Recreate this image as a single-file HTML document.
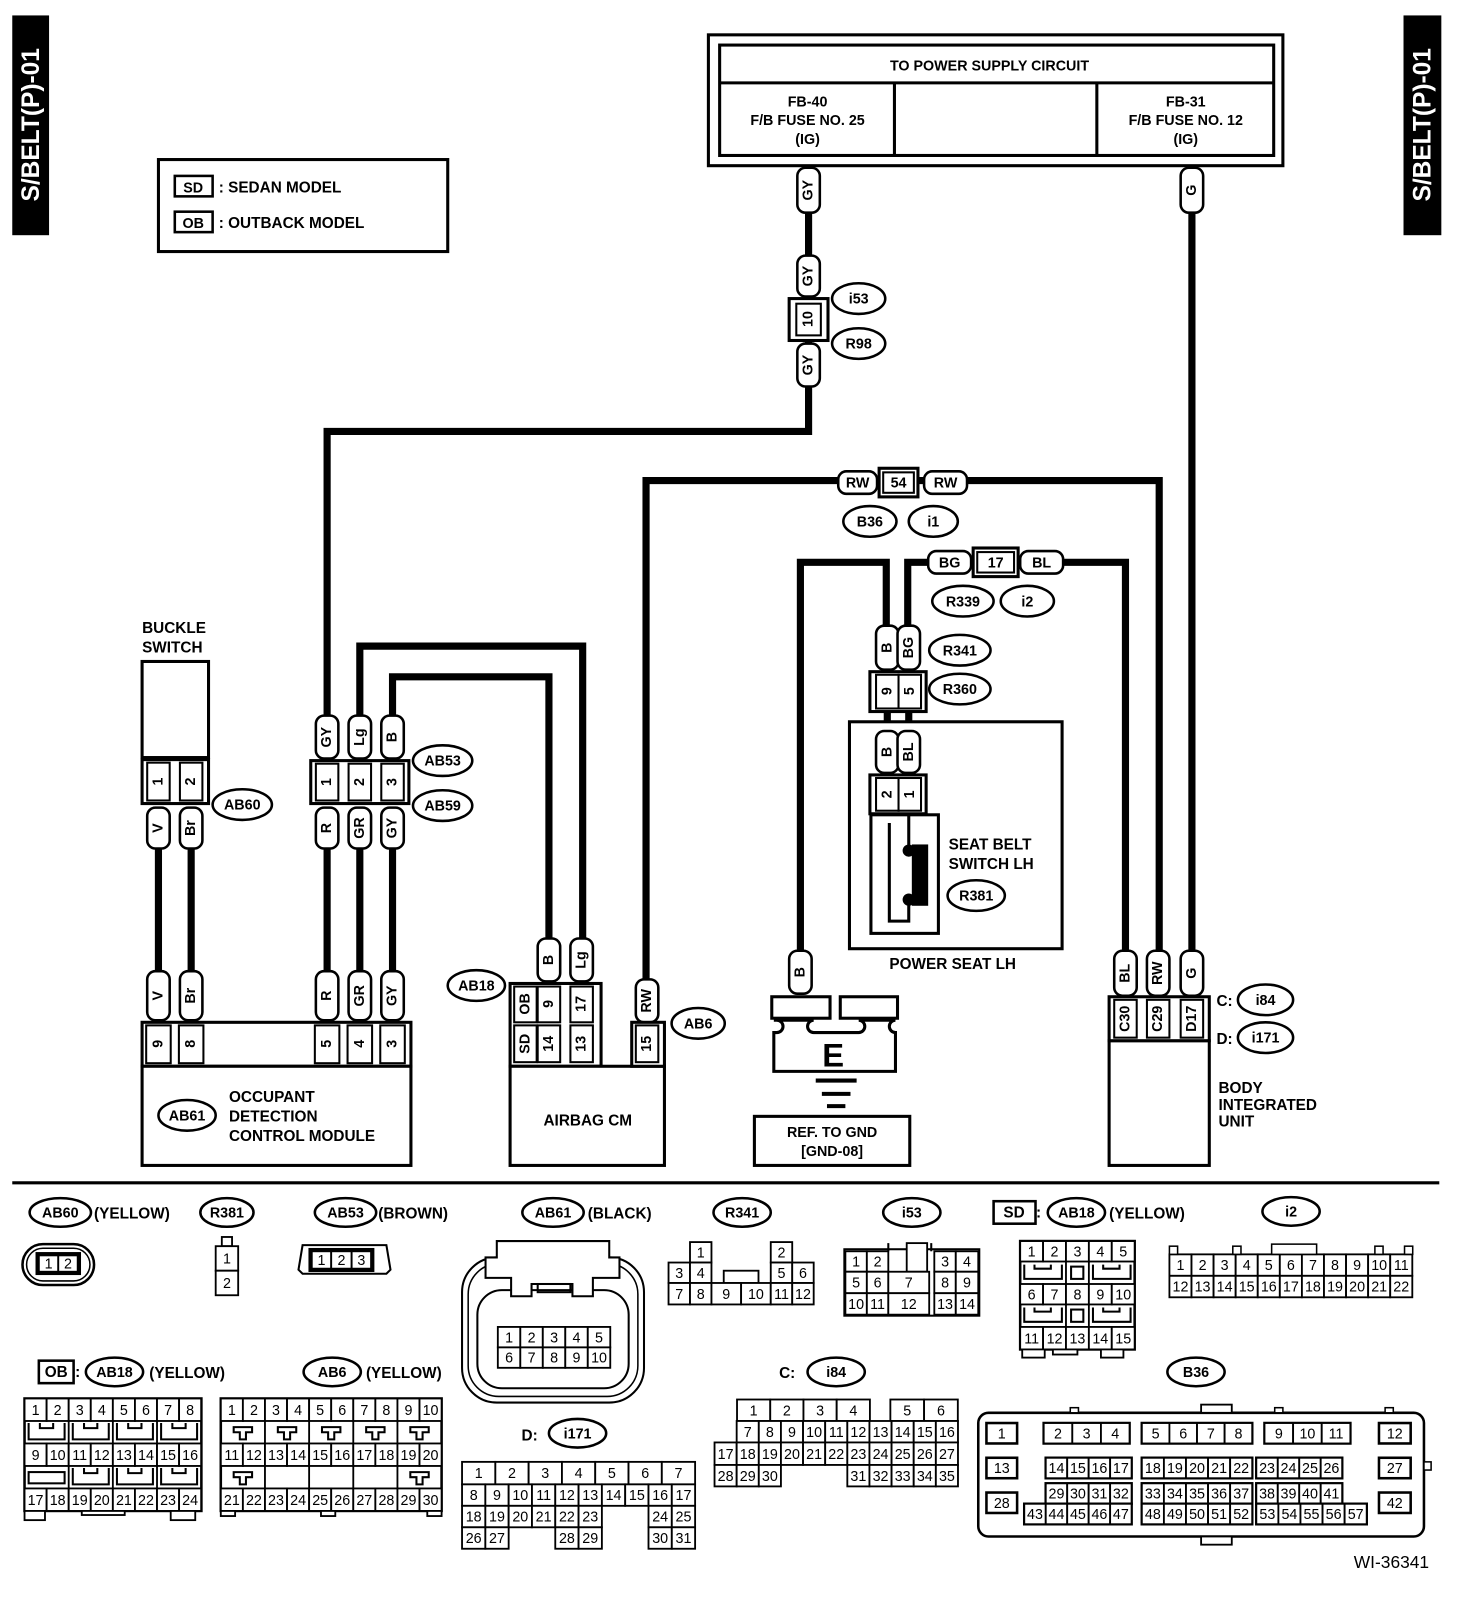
<!DOCTYPE html>
<html><head><meta charset="utf-8">
<style>
html,body{margin:0;padding:0;background:#fff;}
svg{display:block;}
text{font-family:"Liberation Sans",Arial,sans-serif;}
</style></head>
<body>
<svg id="s" xmlns="http://www.w3.org/2000/svg" width="1472" height="1602" viewBox="0 0 1440 1567"></svg>
<script>
let s='';
function L(x1,y1,x2,y2,w){s+=`<line x1="${x1}" y1="${y1}" x2="${x2}" y2="${y2}" stroke="#000" stroke-width="${w||7}"/>`;}
function P(pts,w){s+=`<polyline points="${pts}" fill="none" stroke="#000" stroke-width="${w||7}" stroke-linejoin="miter"/>`;}
function R(x,y,w,h,sw,fill){s+=`<rect x="${x}" y="${y}" width="${w}" height="${h}" fill="${fill||'#fff'}" stroke="#000" stroke-width="${sw==null?2:sw}"/>`;}
function T(x,y,t,sz,anc,wt){s+=`<text x="${x}" y="${y}" font-size="${sz||14}" text-anchor="${anc||'middle'}" font-weight="${wt||'bold'}">${t}</text>`;}
function TV(cx,cy,t,sz,fill){s+=`<text transform="translate(${cx},${cy}) rotate(-90)" font-size="${sz||14}" text-anchor="middle" dominant-baseline="central" font-weight="bold" fill="${fill||'#000'}">${t}</text>`;}
function pill(cx,y1,y2,t){s+=`<rect x="${cx-11}" y="${y1}" width="22" height="${y2-y1}" rx="8" fill="#fff" stroke="#000" stroke-width="2.5"/>`;TV(cx,(y1+y2)/2,t,14);}
function hpill(x1,x2,cy,t){s+=`<rect x="${x1}" y="${cy-11}" width="${x2-x1}" height="22" rx="8" fill="#fff" stroke="#000" stroke-width="2.5"/>`;T((x1+x2)/2,cy+5,t,14);}
function ell(cx,cy,t,rx,ry){s+=`<ellipse cx="${cx}" cy="${cy}" rx="${rx||27}" ry="${ry||14}" fill="#fff" stroke="#000" stroke-width="2.5"/>`;T(cx,cy+5,t,14);}
function pinbox(x1,y1,x2,y2,cells){R(x1,y1,x2-x1,y2-y1,3);cells.forEach(c=>{R(c[0]-11,y1+3,22,y2-y1-6,2);TV(c[0],(y1+y2)/2,c[1],14);});}
function C(x,y,w,h,t){R(x,y,w,h,1.8);if(t!==''&&t!=null)s+=`<text x="${x+w/2}" y="${y+h/2+5}" font-size="14" text-anchor="middle">${t}</text>`;}

// side tabs
R(12,15,36,215,0,'#000');TV(31,122,'S/BELT(P)-01',24,'#fff');
R(1373,15,37,215,0,'#000');TV(1392,122,'S/BELT(P)-01',24,'#fff');
// legend
R(155,156,283,90,3);
R(171,172,37,20,2.5);T(189,188,'SD',14);T(214,188,': SEDAN MODEL',15,'start');
R(171,207,37,20,2.5);T(189,223,'OB',14);T(214,223,': OUTBACK MODEL',15,'start');
// power box
R(693,34,562,128,3);R(704,44,542,108,3);L(704,81,1246,81,3);L(875,81,875,152,3);L(1073,81,1073,152,3);
T(968,69,'TO POWER SUPPLY CIRCUIT',14);
T(790,104,'FB-40',14);T(790,122,'F/B FUSE NO. 25',14);T(790,141,'(IG)',14);
T(1160,104,'FB-31',14);T(1160,122,'F/B FUSE NO. 12',14);T(1160,141,'(IG)',14);
// wires
P('791,162 791,422 320,422 320,700');
L(1166,162,1166,930);
P('632,960 632,470 1134,470 1134,930');
P('783,930 783,550 867,550 867,612');
P('888,612 888,550 910,550');
P('1038,550 1101,550 1101,930');
P('352,700 352,632 570,632 570,918');
P('384,700 384,662 537,662 537,918');
L(155,830,155,950);L(187,830,187,950);L(320,830,320,950);L(352,830,352,950);L(384,830,384,950);
L(868,695,868,715);L(889,695,889,715);
// top connectors
pill(791,164,208,'GY');pill(1166,164,208,'G');
pill(791,250,290,'GY');R(772,292,38,41,3);R(779,297,24,31,2);TV(791,312,'10',14);pill(791,336,378,'GY');
ell(840,292,'i53',26,15);ell(840,336,'R98',26,15);
hpill(820,858,472,'RW');R(860,458,38,28,3);R(864,462,30,20,2);T(879,477,'54',14);hpill(904,946,472,'RW');
ell(851,510,'B36',26,15);ell(913,510,'i1',24,15);
hpill(908,950,550,'BG');R(952,536,44,28,3);R(956,540,36,20,2);T(974,555,'17',14);hpill(998,1040,550,'BL');
ell(942,588,'R339',30,15);ell(1005,588,'i2',26,15);
pill(868,612,655,'B');pill(889,612,655,'BG');
R(851,657,55,39,3);R(857,660,22,33,2);TV(868,676,'9');R(879,660,22,33,2);TV(890,676,'5');
ell(939,636,'R341',30,15);ell(939,674,'R360',30,15);
// power seat
R(831,706,208,222,3);
pill(868,715,756,'B');pill(889,715,756,'BL');
R(851,758,55,38,3);R(857,761,22,32,2);TV(868,777,'2');R(879,761,22,32,2);TV(890,777,'1');
R(852,797,66,116,3);P('889,797 889,829',3);P('870,805 870,901 889,901 889,882',3);
R(892,826,16,60,0,'#000');s+=`<circle cx="889" cy="832" r="6"/><circle cx="889" cy="880" r="6"/>`;
T(928,831,'SEAT BELT',15,'start');T(928,850,'SWITCH LH',15,'start');ell(955,876,'R381',28,15);
T(932,948,'POWER SEAT LH',15);
// ground
pill(783,930,972,'B');
R(755,975,57,21,3);R(822,975,56,21,3);
s+=`<path d="M757,998 H760 A6,6 0 0 1 760,1010 H757 V1048 H876 V1010 A6,6 0 0 1 876,998 H840 A6,6 0 0 1 840,1010 H796 A6,6 0 0 1 796,998 Z" fill="#fff" stroke="#000" stroke-width="3"/>`;
T(815,1043,'E',32);
L(798,1057,838,1057,4);L(804,1070,832,1070,4);L(809,1082,827,1082,4);
R(738,1092,152,48,3);T(814,1112,'REF. TO GND',14);T(814,1131,'[GND-08]',14);
// body integrated unit
pill(1101,930,974,'BL');pill(1133,930,974,'RW');pill(1166,930,974,'G');
R(1085,1018,98,122,3);
pinbox(1085,975,1183,1018,[[1101,'C30'],[1133,'C29'],[1166,'D17']]);
T(1190,984,'C:',15,'start');ell(1238,978,'i84',27,15);
T(1190,1021,'D:',15,'start');ell(1238,1015,'i171',27,15);
T(1192,1069,'BODY',15,'start');T(1192,1086,'INTEGRATED',15,'start');T(1192,1102,'UNIT',15,'start');
// buckle switch
T(139,619,'BUCKLE',15,'start');T(139,638,'SWITCH',15,'start');
R(139,647,65,94,3);
pinbox(139,743,204,786,[[155,'1'],[187,'2']]);
ell(237,787,'AB60',29,15);
pill(155,790,830,'V');pill(187,790,830,'Br');
pill(155,950,998,'V');pill(187,950,998,'Br');
// AB53
pill(320,700,742,'GY');pill(352,700,742,'Lg');pill(384,700,742,'B');
pinbox(304,744,400,786,[[320,'1'],[352,'2'],[384,'3']]);
ell(433,744,'AB53',29,15);ell(433,788,'AB59',29,15);
pill(320,790,830,'R');pill(352,790,830,'GR');pill(384,790,830,'GY');
pill(320,950,998,'R');pill(352,950,998,'GR');pill(384,950,998,'GY');
// ODCM
R(139,1000,263,43,3);R(139,1043,263,97,3);
[[155,'9'],[187,'8'],[320,'5'],[352,'4'],[384,'3']].forEach(c=>{R(c[0]-12,1003,24,37,2);TV(c[0],1021,c[1]);});
ell(183,1091,'AB61',28,15);
T(224,1078,'OCCUPANT',15,'start');T(224,1097,'DETECTION',15,'start');T(224,1116,'CONTROL MODULE',15,'start');
// airbag
pill(537,918,960,'B');pill(569,918,960,'Lg');pill(633,958,1000,'RW');
R(499,962,89,81,3);R(499,1043,151,97,3);R(618,1000,32,43,3);
[[514,'OB','SD'],[537,'9','14'],[569,'17','13']].forEach(c=>{R(c[0]-11,965,22,35,2);TV(c[0],982,c[1]);R(c[0]-11,1003,22,36,2);TV(c[0],1021,c[2]);});
R(622,1003,22,36,2);TV(633,1021,'15');
ell(466,964,'AB18',28,15);ell(683,1001,'AB6',26,15);
T(575,1101,'AIRBAG CM',15);
// separator
L(12,1157,1408,1157,3);

// ===== bottom connectors =====
ell(59,1186,'AB60',30,14);T(92,1192,'(YELLOW)',15,'start');
s+=`<rect x="22" y="1217" width="70" height="40" rx="20" fill="#fff" stroke="#000" stroke-width="2.5"/><rect x="26" y="1221" width="62" height="32" rx="16" fill="none" stroke="#000" stroke-width="1.5"/>`;
R(36,1226,42,20,2.5);C(38,1228,19,16,'1');C(57,1228,19,16,'2');
ell(222,1186,'R381',26,14);R(217,1210,10,9,1.8);C(211,1219,22,24,'1');C(211,1243,22,24,'2');
ell(338,1186,'AB53',30,14);T(370,1192,'(BROWN)',15,'start');
s+=`<path d="M296,1218 H378 L382,1242 L378,1246 H296 L292,1242 Z" fill="#fff" stroke="#000" stroke-width="2"/>`;
R(303,1222,62,21,2.5);C(305,1224,19,17,'1');C(324,1224,20,17,'2');C(344,1224,19,17,'3');
// AB61
ell(541,1186,'AB61',30,14);T(575,1192,'(BLACK)',15,'start');
s+=`<rect x="452" y="1230" width="178" height="142" rx="34" fill="#fff" stroke="#000" stroke-width="2"/><rect x="458" y="1236" width="166" height="130" rx="30" fill="none" stroke="#000" stroke-width="1.5"/>`;
s+=`<rect x="467" y="1262" width="148" height="96" rx="24" fill="#fff" stroke="#000" stroke-width="2"/>`;
s+=`<path d="M486,1214 H596 V1230 H606 V1250 H580 V1268 H560 V1256 H520 V1268 H500 V1250 H475 V1230 H486 Z" fill="#fff" stroke="#000" stroke-width="2"/>`;
s+=`<rect x="526" y="1256" width="32" height="8" fill="none" stroke="#000" stroke-width="2"/>`;
for(let i=0;i<5;i++){C(487+i*22,1298,22,20,String(i+1));C(487+i*22,1318,22,20,String(i+6));}
// R341
ell(726,1186,'R341',28,14);
{const xs=[654,675,696,725,754,775,796];
C(675,1215,21,20,'1');C(754,1215,21,20,'2');
C(654,1235,21,20,'3');C(675,1235,21,20,'4');C(754,1235,21,20,'5');C(775,1235,21,20,'6');
R(708,1243,34,12,1.8);
const l3=['7','8','9','10','11','12'];for(let i=0;i<6;i++)C(xs[i],1255,xs[i+1]-xs[i],21,l3[i]);}
// i53
ell(892,1186,'i53',28,14);
R(826,1222,132,65,2);
C(827,1224,21,20,'1');C(848,1224,21,20,'2');C(914,1224,21,20,'3');C(935,1224,22,20,'4');R(887,1216,20,28,1.8);
L(869,1216,869,1224,2);L(911,1216,911,1224,2);
C(827,1244,21,21,'5');C(848,1244,21,21,'6');C(869,1244,40,21,'7');C(914,1244,21,21,'8');C(935,1244,22,21,'9');
C(827,1265,21,21,'10');C(848,1265,21,21,'11');C(869,1265,40,21,'12');C(914,1265,21,21,'13');C(935,1265,22,21,'14');
// SD AB18
R(972,1175,41,22,2.5);T(992,1191,'SD',15);T(1016,1191,':',15);ell(1053,1186,'AB18',28,14);T(1085,1192,'(YELLOW)',15,'start');
{const x0=998,cw=22.4;R(x0,1214,112,106,2.5);
for(let i=0;i<5;i++){C(x0+i*cw,1214,cw,20,String(i+1));C(x0+i*cw,1256,cw,20,String(i+6));C(x0+i*cw,1298,cw,22,String(i+11));}
[1234,1276].forEach(y=>{s+=`<path d="M${x0+4},${y+3} V${y+17} H${x0+2*cw-4} V${y+3} M${x0+14},${y+3} V${y+7} H${x0+30} V${y+3}" fill="none" stroke="#000" stroke-width="2"/>`;
s+=`<path d="M${x0+3*cw+4},${y+3} V${y+17} H${x0+5*cw-4} V${y+3} M${x0+3*cw+14},${y+3} V${y+7} H${x0+3*cw+30} V${y+3}" fill="none" stroke="#000" stroke-width="2"/>`;
R(x0+2*cw+5,y+5,12,12,2);L(x0+2*cw,y,x0+2*cw,y+22,1.8);L(x0+3*cw,y,x0+3*cw,y+22,1.8);});
R(1000,1320,22,8,1.8);R(1030,1320,24,5,1.8);R(1077,1320,22,8,1.8);}
// i2
ell(1263,1185,'i2',28,14);
{const x0=1144,cw=21.6;for(let i=0;i<11;i++){C(x0+i*cw,1227,cw,21,String(i+1));C(x0+i*cw,1248,cw,21,String(i+12));}
R(1144,1219,8,8,1.5);R(1206,1219,8,8,1.5);R(1244,1217,44,10,1.5);R(1345,1219,8,8,1.5);R(1374,1219,8,8,1.5);}
// OB AB18
R(38,1331,34,22,2.5);T(55,1347,'OB',15);T(76,1347,':',15);ell(112,1342,'AB18',28,14);T(146,1348,'(YELLOW)',15,'start');
{const x0=24,cw=21.6;R(x0,1368,173,110,2.5);
for(let i=0;i<8;i++){C(x0+i*cw,1368,cw,22,String(i+1));C(x0+i*cw,1412,cw,22,String(i+9));C(x0+i*cw,1456,cw,22,String(i+17));}
[1390,1434].forEach((y,r)=>{for(let p=0;p<4;p++){const x=x0+p*2*cw;L(x,y,x,y+22,1.8);
if(r==1&&p==0){R(x+4,y+6,2*cw-8,11,2);}else{s+=`<path d="M${x+4},${y+2} V${y+18} H${x+2*cw-4} V${y+2} M${x+15},${y+2} V${y+7} H${x+28} V${y+2}" fill="none" stroke="#000" stroke-width="2"/>`;}}});
R(24,1478,20,9,1.8);R(80,1478,42,4,1.8);R(167,1478,24,9,1.8);}
// AB6
ell(325,1342,'AB6',28,14);T(358,1348,'(YELLOW)',15,'start');
{const x0=216,cw=21.6;R(x0,1368,216,110,2.5);
for(let i=0;i<10;i++){C(x0+i*cw,1368,cw,22,String(i+1));C(x0+i*cw,1412,cw,22,String(i+11));C(x0+i*cw,1456,cw,22,String(i+21));}
function tee(x,y){s+=`<path d="M${x-9},${y} H${x+9} V${y+5} H${x+3} V${y+12} H${x-3} V${y+5} H${x-9} Z" fill="#fff" stroke="#000" stroke-width="2"/>`;}
for(let p=0;p<5;p++){const x=x0+p*2*cw;L(x,1390,x,1412,1.8);tee(x+cw,1396);L(x,1434,x,1456,1.8);}
tee(x0+cw,1440);tee(x0+9*cw,1440);
R(216,1478,14,5,1.8);R(314,1478,14,5,1.8);R(418,1478,14,5,1.8);}
// i171
T(526,1409,'D:',15,'end');ell(565,1402,'i171',28,14);
{const x0=452,w7=228/7,cw=22.8;for(let i=0;i<7;i++)C(x0+i*w7,1430,w7,22,String(i+1));
for(let i=0;i<10;i++)C(x0+i*cw,1452,cw,21,String(i+8));
const r3=[[0,'18'],[1,'19'],[2,'20'],[3,'21'],[4,'22'],[5,'23'],[8,'24'],[9,'25']];r3.forEach(c=>C(x0+c[0]*cw,1473,cw,21,c[1]));
const r4=[[0,'26'],[1,'27'],[4,'28'],[5,'29'],[8,'30'],[9,'31']];r4.forEach(c=>C(x0+c[0]*cw,1494,cw,21,c[1]));}
// i84
T(778,1348,'C:',15,'end');ell(818,1342,'i84',28,14);
{const x0=699,cw=21.65;for(let i=0;i<4;i++)C(721+i*32.5,1369,32.5,21,String(i+1));C(871,1369,33,21,'5');C(904,1369,33,21,'6');
for(let i=0;i<10;i++)C(x0+(i+1)*cw,1390,cw,21,String(i+7));
for(let i=0;i<11;i++)C(x0+i*cw,1411,cw,22,String(i+17));
for(let i=0;i<3;i++)C(x0+i*cw,1433,cw,21,String(i+28));
for(let i=0;i<5;i++)C(x0+(i+6)*cw,1433,cw,21,String(i+31));}
// B36
ell(1170,1342,'B36',28,14);
s+=`<rect x="957" y="1382" width="436" height="121" rx="10" fill="#fff" stroke="#000" stroke-width="2.5"/>`;
R(1175,1374,30,8,1.8);R(1175,1503,30,8,1.8);R(1047,1377,8,5,1.5);R(1247,1377,8,5,1.5);R(1355,1377,8,5,1.5);R(1393,1430,7,8,1.5);
function C2(x,y,w,h,t){R(x,y,w,h,2.5);s+=`<text x="${x+w/2}" y="${y+h/2+5}" font-size="14" text-anchor="middle">${t}</text>`;}
C2(965,1392,30,20,'1');C2(965,1426,30,20,'13');C2(965,1460,30,20,'28');
C2(1349,1392,31,20,'12');C2(1349,1426,31,20,'27');C2(1349,1460,31,20,'42');
function grp(x,y,n,w,start){R(x,y,n*w,20,2.5);for(let i=0;i<n;i++)C(x+i*w,y,w,20,String(start+i));}
grp(1021,1392,3,28,2);grp(1117,1392,4,27,5);grp(1237,1392,3,28,9);
grp(1023,1426,4,21,14);grp(1117,1426,5,21.6,18);grp(1229,1426,4,21,23);
grp(1023,1451,4,21,29);grp(1117,1451,5,21.6,33);grp(1229,1451,4,21,38);
grp(1002,1471,5,21,43);grp(1117,1471,5,21.6,48);grp(1229,1471,5,21.6,53);
T(1398,1534,'WI-36341',17,'end','normal');

document.getElementById('s').innerHTML=s;
</script>
</body></html>
